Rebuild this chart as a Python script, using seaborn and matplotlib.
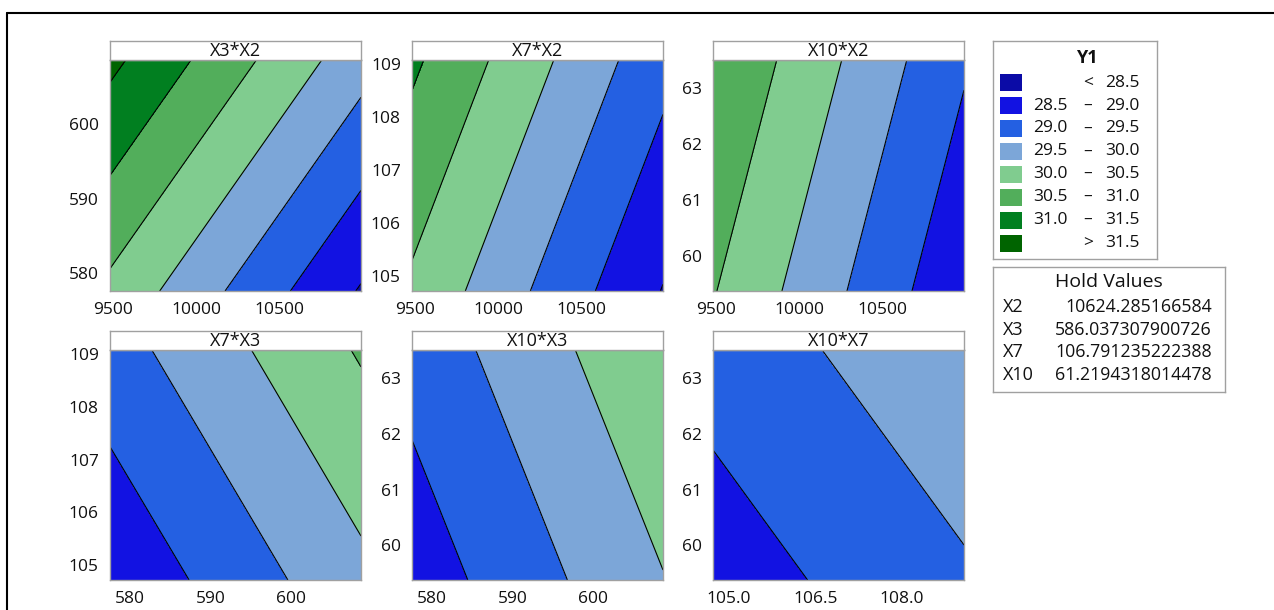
import numpy as np
import matplotlib
matplotlib.use("Agg")
import matplotlib.pyplot as plt
import seaborn as sns
from matplotlib.patches import Rectangle
from matplotlib.lines import Line2D

# axis ranges of the factors
x2_range = [9480, 10995]
x3_range = [577.6, 608.6]
x7_range = [104.72, 109.08]
x10_range = [59.38, 63.5]

# Y1 read at the panel corners: [[bottom-left, bottom-right], [top-left, top-right]]
z_x3_x2 = [[30.38, 28.46], [31.62, 29.70]]
z_x7_x2 = [[30.41, 28.48], [31.09, 29.16]]
z_x10_x2 = [[30.53, 28.60], [30.99, 29.06]]
z_x7_x3 = [[28.60, 29.87], [29.29, 30.55]]
z_x10_x3 = [[28.72, 29.98], [29.18, 30.44]]
z_x10_x7 = [[28.74, 29.43], [29.20, 29.89]]

# contour levels and colours
levels = [28.5, 29.0, 29.5, 30.0, 30.5, 31.0, 31.5]
colors = ["#0b0ba6", "#1212e2", "#2460e2", "#7ca6d8", "#80cc8f", "#52ae5b", "#017f20", "#006400"]

hold_names = ["X2", "X3", "X7", "X10"]
hold_values = ["10624.285166584", "586.037307900726", "106.791235222388", "61.2194318014478"]

x2_ticks = [9500, 10000, 10500]
x3_ticks = [580, 590, 600]
x7_ticks = [105.0, 106.5, 108.0]
x10_ticks = [60, 61, 62, 63]
x7_yticks = [105, 106, 107, 108, 109]
x3_yticks = [580, 590, 600]

panels = [
    ("X3*X2", x2_range, x3_range, z_x3_x2, x2_ticks, x3_yticks, "{:.0f}"),
    ("X7*X2", x2_range, x7_range, z_x7_x2, x2_ticks, x7_yticks, "{:.0f}"),
    ("X10*X2", x2_range, x10_range, z_x10_x2, x2_ticks, x10_ticks, "{:.0f}"),
    ("X7*X3", x3_range, x7_range, z_x7_x3, x3_ticks, x7_yticks, "{:.0f}"),
    ("X10*X3", x3_range, x10_range, z_x10_x3, x3_ticks, x10_ticks, "{:.0f}"),
    ("X10*X7", x7_range, x10_range, z_x10_x7, x7_ticks, x10_ticks, "{:.1f}"),
]

sns.set_style("white")
plt.rcParams["font.family"] = ["Open Sans", "DejaVu Sans"]

W, H = 1274, 610
fig = plt.figure(figsize=(W / 100, H / 100), dpi=100)
gray = "#a0a0a0"
txt = "#111111"
fs_tick = 12.5
fs_title = 13
fs_leg = 12.5


def px_axes(x0, y0, x1, y1):
    return fig.add_axes([x0 / W, 1 - y1 / H, (x1 - x0) / W, (y1 - y0) / H])


col_left = [110, 412, 713]
row_top = [60, 350]
row_bot = [291, 580]
fill_levels = [20] + levels + [40]

for i, (title, xr, yr, z, xt, yt, xfmt) in enumerate(panels):
    r, c = divmod(i, 3)
    ax = px_axes(col_left[c], row_top[r], col_left[c] + 251, row_bot[r])
    Z = np.array(z)
    ax.contourf(xr, yr, Z, levels=fill_levels, colors=colors)
    ax.contour(xr, yr, Z, levels=levels, colors="black", linewidths=0.8)
    ax.set_xlim(xr)
    ax.set_ylim(yr)
    ax.set_xticks(xt)
    ax.set_xticklabels([xfmt.format(v) for v in xt])
    ax.set_yticks(yt)
    ax.set_yticklabels([f"{v:.0f}" for v in yt])
    ax.tick_params(direction="out", length=5, width=1, color=gray,
                   labelsize=fs_tick, labelcolor=txt, pad=3)
    for s in ax.spines.values():
        s.set_color(gray)
        s.set_linewidth(1)

    strip = px_axes(col_left[c], row_top[r] - 19.5, col_left[c] + 251, row_top[r])
    strip.set_xticks([])
    strip.set_yticks([])
    for s in strip.spines.values():
        s.set_color(gray)
        s.set_linewidth(1)
    strip.text(0.5, 0.47, title, ha="center", va="center", fontsize=fs_title, color=txt,
               transform=strip.transAxes)

# legend box for Y1
leg = px_axes(993, 41, 1157, 259)
leg.set_xlim(993, 1157)
leg.set_ylim(259, 41)
leg.set_xticks([])
leg.set_yticks([])
for s in leg.spines.values():
    s.set_color(gray)
    s.set_linewidth(1)
leg.text(1087, 58, "Y1", ha="center", va="center", fontsize=13, fontweight="bold", color=txt)
for k, col in enumerate(colors):
    yc = 82.7 + 22.9 * k
    leg.add_patch(Rectangle((1000, yc - 8.5), 22, 17, facecolor=col, edgecolor="none"))
    if k == 0:
        lo, mid, hi = "", "<", f"{levels[0]:.1f}"
    elif k == len(colors) - 1:
        lo, mid, hi = "", ">", f"{levels[-1]:.1f}"
    else:
        lo, mid, hi = f"{levels[k - 1]:.1f}", "–", f"{levels[k]:.1f}"
    leg.text(1068, yc, lo, ha="right", va="center", fontsize=fs_leg, color=txt)
    leg.text(1088, yc, mid, ha="center", va="center", fontsize=fs_leg, color=txt)
    leg.text(1140, yc, hi, ha="right", va="center", fontsize=fs_leg, color=txt)

# hold values box
hold = px_axes(993, 267, 1225, 392)
hold.set_xlim(993, 1225)
hold.set_ylim(392, 267)
hold.set_xticks([])
hold.set_yticks([])
for s in hold.spines.values():
    s.set_color(gray)
    s.set_linewidth(1)
hold.text(1109, 282, "Hold Values", ha="center", va="center", fontsize=14, color=txt)
for k, (nm, val) in enumerate(zip(hold_names, hold_values)):
    yc = 307 + 22.7 * k
    hold.text(1003, yc, nm, ha="left", va="center", fontsize=13, color=txt)
    hold.text(1212, yc, val, ha="right", va="center", fontsize=12.8, color=txt)

# outer frame (cropped on right and bottom)
fig.add_artist(Line2D([7 / W, 7 / W], [0, 1 - 13 / H], color="black", lw=1.5))
fig.add_artist(Line2D([7 / W, 1], [1 - 13 / H, 1 - 13 / H], color="black", lw=1.5))

fig.savefig("out.png", dpi=100)
